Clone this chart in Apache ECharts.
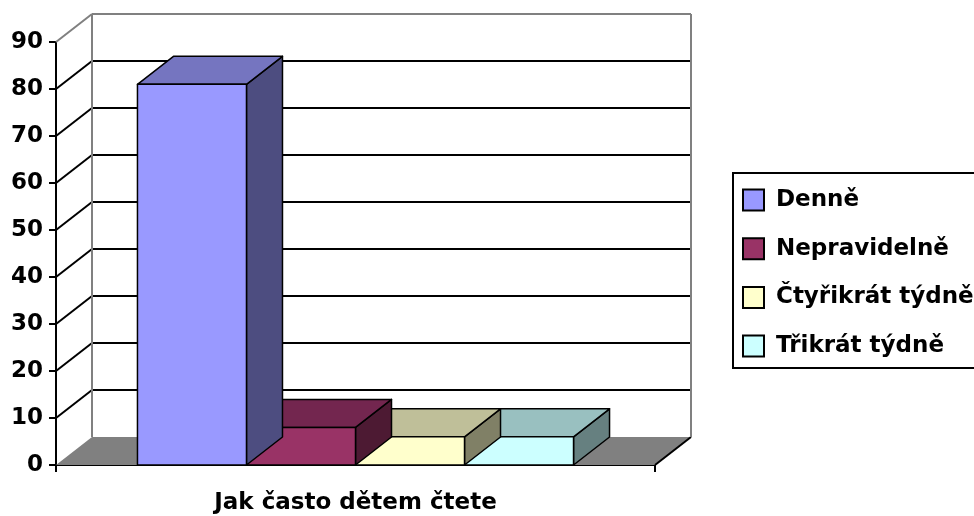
<!DOCTYPE html>
<html>
<head>
<meta charset="utf-8">
<script src="https://cdn.jsdelivr.net/npm/echarts@6/dist/echarts.min.js"></script>
<style>
  html, body { margin: 0; padding: 0; background: #fff; }
  #chart { width: 974px; height: 516px; }
</style>
</head>
<body>
<div id="chart"></div>
<script>
// data
const category = ['Jak často dětem čtete']
const seriesNames = ['Denně', 'Nepravidelně', 'Čtyřikrát týdně', 'Třikrát týdně']
const seriesValues = [81, 8, 6, 6]
const yTicks = [0, 10, 20, 30, 40, 50, 60, 70, 80, 90]

// front / top / side colours for each bar
const frontColors = ['#9999FF', '#993366', '#FFFFCC', '#CCFFFF']
const topColors = ['#7575C0', '#73264F', '#BFBF99', '#99C0C0']
const sideColors = ['#4D4D80', '#4D1A33', '#808066', '#668080']

const FONT = 'DejaVu Sans'
const DX = 36 // depth of the 3d view
const DY = 28
const BAR_PART = 0.182

const chart = echarts.init(document.getElementById('chart'))

function makeBar(i) {
  return function (params, api) {
    const base = api.coord([0, 0])
    const top = api.coord([0, api.value(1)])
    const bw = api.size([1, 0])[0]
    const barW = bw * BAR_PART
    const x0 = base[0] + (i - 2) * barW
    const x1 = x0 + barW
    const yT = top[1]
    const yB = base[1]
    const line = { stroke: '#000', lineWidth: 1.5, lineJoin: 'round' }
    return {
      type: 'group',
      children: [
        {
          type: 'polygon',
          shape: { points: [[x1, yT], [x1 + DX, yT - DY], [x1 + DX, yB - DY], [x1, yB]] },
          style: Object.assign({ fill: sideColors[i] }, line)
        },
        {
          type: 'polygon',
          shape: { points: [[x0, yT], [x0 + DX, yT - DY], [x1 + DX, yT - DY], [x1, yT]] },
          style: Object.assign({ fill: topColors[i] }, line)
        },
        {
          type: 'polygon',
          shape: { points: [[x0, yT], [x1, yT], [x1, yB], [x0, yB]] },
          style: Object.assign({ fill: frontColors[i] }, line)
        }
      ]
    }
  }
}

// walls, floor and gridlines of the 3d box
function renderFrame(params, api) {
  const t = api.value(1)
  const p = api.coord([0, t])
  const bw = api.size([1, 0])[0]
  const L = p[0] - bw / 2
  const R = p[0] + bw / 2
  const y = p[1]
  const y0 = api.coord([0, 0])[1]
  const maxT = yTicks[yTicks.length - 1]
  const gray = { stroke: '#808080', lineWidth: 2 }
  const black = { stroke: '#000', lineWidth: 2 }
  const children = []
  if (t === 0) {
    children.push({
      type: 'polygon',
      shape: { points: [[L, y], [L + DX, y - DY], [R + DX, y - DY], [R, y]] },
      style: { fill: '#808080' }
    })
    children.push({
      type: 'line',
      shape: { x1: R, y1: y, x2: R + DX, y2: y - DY },
      style: black
    })
  } else if (t === maxT) {
    children.push({ type: 'line', shape: { x1: L, y1: y, x2: L + DX, y2: y - DY }, style: gray })
    children.push({ type: 'line', shape: { x1: L + DX, y1: y - DY, x2: R + DX, y2: y - DY }, style: gray })
    children.push({ type: 'line', shape: { x1: L + DX, y1: y - DY, x2: L + DX, y2: y0 - DY }, style: gray })
    children.push({ type: 'line', shape: { x1: R + DX, y1: y - DY, x2: R + DX, y2: y0 - DY }, style: gray })
  } else {
    children.push({ type: 'line', shape: { x1: L, y1: y, x2: L + DX, y2: y - DY }, style: black })
    children.push({ type: 'line', shape: { x1: L + DX, y1: y - DY, x2: R + DX, y2: y - DY }, style: black })
  }
  return { type: 'group', children }
}

const barSeries = seriesNames.map((name, i) => ({
  name,
  type: 'custom',
  renderItem: makeBar(i),
  encode: { x: 0, y: 1 },
  z: 10 - i,
  itemStyle: { color: frontColors[i], borderColor: '#000', borderWidth: 1.5 },
  data: [[0, seriesValues[i]]]
}))

chart.setOption({
  animation: false,
  textStyle: { fontFamily: FONT },
  grid: { left: 56, right: 319, top: 42, bottom: 51, outerBoundsMode: 'none', containLabel: false },
  legend: {
    data: seriesNames,
    orient: 'vertical',
    left: 733,
    top: 173,
    padding: [15, 60, 10, 9],
    borderColor: '#000',
    borderWidth: 2,
    icon: 'rect',
    itemWidth: 21,
    itemHeight: 21,
    itemGap: 24.7,
    itemStyle: { borderColor: '#000', borderWidth: 2 },
    textStyle: { fontFamily: FONT, fontSize: 23, lineHeight: 24, fontWeight: 'bold', color: '#000', padding: [0, 0, 0, 7] }
  },
  xAxis: {
    type: 'category',
    data: category,
    name: category[0],
    nameLocation: 'middle',
    nameGap: 27,
    nameTextStyle: { fontFamily: FONT, fontSize: 23, fontWeight: 'bold', color: '#000' },
    axisLine: { lineStyle: { color: '#000', width: 2 } },
    axisTick: { show: true, length: 7, lineStyle: { color: '#000', width: 2 } },
    axisLabel: { show: false },
    splitLine: { show: false }
  },
  yAxis: {
    type: 'value',
    min: 0,
    max: 90,
    interval: 10,
    axisLine: { show: true, lineStyle: { color: '#000', width: 2 } },
    axisTick: { show: true, length: 7, lineStyle: { color: '#000', width: 2 } },
    axisLabel: { margin: 13, fontFamily: FONT, fontSize: 23, fontWeight: 'bold', color: '#000' },
    splitLine: { show: false }
  },
  series: barSeries.concat([{
    name: 'frame',
    type: 'custom',
    renderItem: renderFrame,
    encode: { x: 0, y: 1 },
    z: 1,
    silent: true,
    data: yTicks.map(t => [0, t])
  }])
})
</script>
</body>
</html>
